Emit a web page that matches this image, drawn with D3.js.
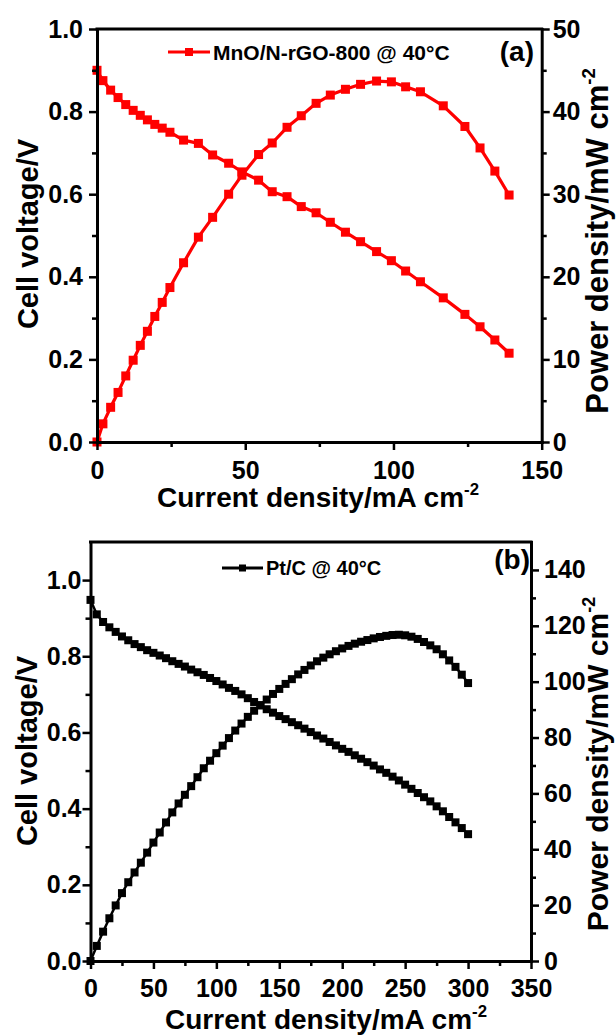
<!DOCTYPE html>
<html>
<head>
<meta charset="utf-8">
<script src="https://cdn.jsdelivr.net/npm/d3@7"></script>
<style>
  html, body { margin: 0; padding: 0; background: #fff; }
  svg { display: block; }
  text { font-family: "Liberation Sans", Arial, sans-serif; font-weight: bold; fill: #000; }
</style>
</head>
<body>
<svg id="fig" width="616" height="1036"></svg>
<script>
// (a) MnO/N-rGO-800 single cell at 40 °C
const currentA = [0, 2.0, 4.6, 7.1, 9.7, 12.2, 14.6, 17.0, 19.5, 22.0, 24.6, 29.2, 34.2, 39.0, 44.4, 48.9, 54.5, 59.1, 64.1, 68.9, 73.9, 78.7, 83.8, 88.9, 94.3, 99.3, 104.1, 109.1, 116.8, 124.1, 129.2, 134.2, 139.0];
const voltageA = [0.900, 0.875, 0.852, 0.834, 0.817, 0.803, 0.791, 0.780, 0.769, 0.760, 0.750, 0.731, 0.723, 0.695, 0.675, 0.654, 0.634, 0.606, 0.594, 0.570, 0.555, 0.532, 0.508, 0.485, 0.461, 0.439, 0.414, 0.388, 0.349, 0.309, 0.279, 0.247, 0.215];
const powerA = [0, 2.2, 4.2, 6.0, 8.0, 9.9, 11.7, 13.4, 15.2, 16.9, 18.7, 21.7, 24.8, 27.2, 30.0, 32.3, 34.8, 36.2, 38.1, 39.5, 41.0, 42.0, 42.7, 43.3, 43.7, 43.6, 43.0, 42.4, 40.7, 38.2, 35.6, 32.8, 29.9];

// (b) Pt/C single cell at 40 °C
const currentB = [0, 5, 10, 15, 20, 25, 30, 35, 40, 45, 50, 55, 60, 65, 70, 75, 80, 85, 90, 95, 100, 105, 110, 115, 120, 125, 130, 135, 140, 145, 150, 155, 160, 165, 170, 175, 180, 185, 190, 195, 200, 205, 210, 215, 220, 225, 230, 235, 240, 245, 250, 255, 260, 265, 270, 275, 280, 285, 290, 295, 300];
const voltageB = [0.948, 0.910, 0.890, 0.876, 0.864, 0.852, 0.842, 0.832, 0.824, 0.816,
                  0.809, 0.802, 0.795, 0.787, 0.780, 0.773, 0.765, 0.758, 0.751, 0.743,
                  0.735, 0.726, 0.717, 0.709, 0.700, 0.690, 0.680, 0.671, 0.661, 0.652,
                  0.643, 0.635, 0.627, 0.619, 0.610, 0.601, 0.592, 0.584, 0.575, 0.566,
                  0.557, 0.549, 0.540, 0.531, 0.522, 0.513, 0.503, 0.494, 0.484, 0.474,
                  0.463, 0.452, 0.441, 0.430, 0.419, 0.406, 0.393, 0.378, 0.364, 0.349, 0.333];
const powerB = [0, 5.4, 10.5, 15.3, 19.9, 24.3, 28.2, 31.7, 35.2, 38.8,
                42.4, 46.0, 49.6, 53.2, 56.4, 59.5, 62.6, 65.8, 69.0, 71.7,
                74.4, 77.1, 79.8, 82.5, 85.0, 87.4, 89.6, 91.6, 93.6, 95.6,
                97.4, 99.2, 100.9, 102.6, 104.2, 105.8, 107.3, 108.6, 109.8, 110.9,
                111.9, 112.8, 113.6, 114.3, 114.9, 115.5, 116.0, 116.4, 116.7, 116.8,
                116.6, 116.1, 115.3, 114.2, 113.0, 111.6, 109.8, 107.6, 105.3, 102.5, 99.5];

// tick values
const xTicksA = [0, 50, 100, 150], xMinorA = [25, 75, 125];
const vTicksA = [0, 0.2, 0.4, 0.6, 0.8, 1.0], vMinorA = [0.1, 0.3, 0.5, 0.7, 0.9];
const pTicksA = [0, 10, 20, 30, 40, 50], pMinorA = [5, 15, 25, 35, 45];
const xTicksB = [0, 50, 100, 150, 200, 250, 300, 350], xMinorB = [25, 75, 125, 175, 225, 275, 325];
const vTicksB = [0, 0.2, 0.4, 0.6, 0.8, 1.0], vMinorB = [0.1, 0.3, 0.5, 0.7, 0.9];
const pTicksB = [0, 20, 40, 60, 80, 100, 120, 140], pMinorB = [10, 30, 50, 70, 90, 110, 130];

const svg = d3.select("#fig");
svg.append("rect").attr("width", 616).attr("height", 1036).attr("fill", "#fff");

const TICK_FS = 25;

function styleAxis(g) {
  g.select(".domain").attr("stroke", "#000").attr("stroke-width", 3).attr("stroke-linecap", "square");
  g.selectAll(".tick line").attr("stroke", "#000").attr("stroke-width", 2.5);
  g.selectAll(".tick text").attr("font-size", TICK_FS).attr("fill", "#000")
    .attr("font-family", '"Liberation Sans", Arial, sans-serif').attr("font-weight", "bold");
}

function addAxis(axisFn, scale, major, minor, fmt, transform, pad) {
  const gMinor = svg.append("g").attr("transform", transform)
    .call(axisFn(scale).tickValues(minor).tickSize(5).tickFormat(""));
  gMinor.select(".domain").remove();
  gMinor.selectAll(".tick line").attr("stroke", "#000").attr("stroke-width", 2.5);
  const g = svg.append("g").attr("transform", transform)
    .call(axisFn(scale).tickValues(major).tickSize(8).tickSizeOuter(0).tickPadding(pad).tickFormat(fmt));
  styleAxis(g);
  return g;
}

function drawPanel(cfg) {
  const { x, yV, yP, cur, volt, pow, color, marker, lineW } = cfg;
  const [x0, x1] = x.range();
  const yt = yV.range()[1];

  // frame top edge
  svg.append("line").attr("x1", x0).attr("x2", x1).attr("y1", yt).attr("y2", yt)
    .attr("stroke", "#000").attr("stroke-width", 3).attr("stroke-linecap", "square");

  const plot = svg.append("g");
  const series = [
    cur.map((c, i) => [x(c), yV(volt[i])]),
    cur.map((c, i) => [x(c), yP(pow[i])])
  ];
  series.forEach(pts => {
    plot.append("path").attr("d", d3.line()(pts))
      .attr("fill", "none").attr("stroke", color).attr("stroke-width", lineW)
      .attr("stroke-linejoin", "round");
    plot.selectAll(null).data(pts).enter().append("rect")
      .attr("x", d => d[0] - marker / 2).attr("y", d => d[1] - marker / 2)
      .attr("width", marker).attr("height", marker).attr("fill", color);
  });
}

function legend(x1, x2, y, color, marker, label, tx, ty, fs) {
  svg.append("line").attr("x1", x1).attr("x2", x2).attr("y1", y).attr("y2", y)
    .attr("stroke", color).attr("stroke-width", 3);
  svg.append("rect").attr("x", (x1 + x2) / 2 - marker / 2).attr("y", y - marker / 2)
    .attr("width", marker).attr("height", marker).attr("fill", color);
  svg.append("text").attr("x", tx).attr("y", ty).attr("font-size", fs).text(label);
}

function xTitle(cx, y, fs) {
  const t = svg.append("text").attr("x", cx).attr("y", y).attr("text-anchor", "middle").attr("font-size", fs);
  t.append("tspan").text("Current density/mA cm");
  t.append("tspan").attr("font-size", fs * 0.6).attr("dy", -fs * 0.42).text("-2");
}

function vTitle(x, cy, fs, parts) {
  const t = svg.append("text").attr("transform", `translate(${x},${cy}) rotate(-90)`)
    .attr("text-anchor", "middle").attr("font-size", fs);
  t.append("tspan").text(parts[0]);
  if (parts[1]) t.append("tspan").attr("font-size", fs * 0.6).attr("dy", -fs * 0.42).text(parts[1]);
}

// ---------- panel (a) ----------
const xA = d3.scaleLinear().domain([0, 150]).range([97, 541.7]);
const yVA = d3.scaleLinear().domain([0, 1]).range([442, 29]);
const yPA = d3.scaleLinear().domain([0, 50]).range([442, 29]);

drawPanel({ x: xA, yV: yVA, yP: yPA, cur: currentA, volt: voltageA, pow: powerA, color: "#ff0000", marker: 9, lineW: 3.2 });
addAxis(d3.axisBottom, xA, xTicksA, xMinorA, d3.format("d"), "translate(0,442)", 11);
addAxis(d3.axisLeft, yVA, vTicksA, vMinorA, d3.format(".1f"), "translate(97,0)", 6);
addAxis(d3.axisRight, yPA, pTicksA, pMinorA, d3.format("d"), "translate(541.7,0)", 3);

legend(168, 210, 52, "#ff0000", 8, "MnO/N-rGO-800 @ 40°C", 213, 60, 21);
svg.append("text").attr("x", 534).attr("y", 61).attr("text-anchor", "end").attr("font-size", 28).text("(a)");
xTitle(318, 507, 28);
vTitle(38, 234, 29, ["Cell voltage/V"]);
vTitle(608, 241, 31, ["Power density/mW cm", "-2"]);

// ---------- panel (b) ----------
const xB = d3.scaleLinear().domain([0, 350]).range([90.5, 531]);
const yVB = d3.scaleLinear().domain([0, 1.1]).range([961, 542]);
const yPB = d3.scaleLinear().domain([0, 150]).range([961, 542]);

drawPanel({ x: xB, yV: yVB, yP: yPB, cur: currentB, volt: voltageB, pow: powerB, color: "#000", marker: 8, lineW: 2.5 });
addAxis(d3.axisBottom, xB, xTicksB, xMinorB, d3.format("d"), "translate(0,961)", 10);
addAxis(d3.axisLeft, yVB, vTicksB, vMinorB, d3.format(".1f"), "translate(90.5,0)", 1);
addAxis(d3.axisRight, yPB, pTicksB, pMinorB, d3.format("d"), "translate(531,0)", 5);

legend(222, 263, 568, "#000", 7, "Pt/C @ 40°C", 266, 575, 20);
svg.append("text").attr("x", 530).attr("y", 569).attr("text-anchor", "end").attr("font-size", 28).text("(b)");
xTitle(326, 1029, 28);
vTitle(37, 751, 29, ["Cell voltage/V"]);
vTitle(608, 764, 30, ["Power density/mW cm", "-2"]);
</script>
</body>
</html>
